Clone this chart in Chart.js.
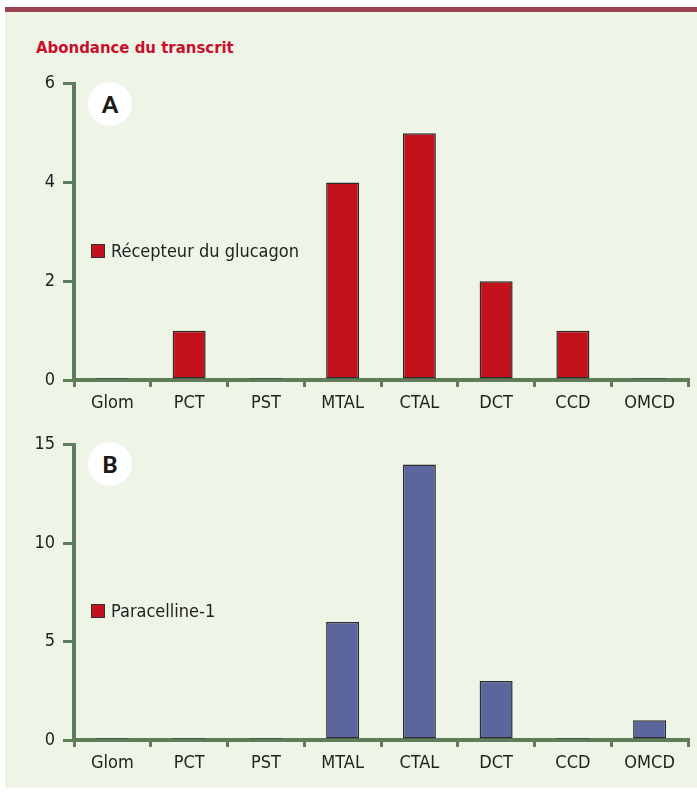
<!DOCTYPE html>
<html>
<head>
<meta charset="utf-8">
<script src="https://cdn.jsdelivr.net/npm/chart.js@4.4.1/dist/chart.umd.min.js"></script>
<style>
  html, body { margin: 0; padding: 0; background: #ffffff; }
  body { width: 697px; height: 793px; position: relative; overflow: hidden; font-family: "DejaVu Sans Condensed", "DejaVu Sans", sans-serif; }
  #bg { position: absolute; left: 5px; top: 12px; width: 692px; height: 776px; background: #eef5e7; }
  #topbar { position: absolute; left: 5px; top: 7px; width: 692px; height: 5px; background: #9a4350; }
  #title { position: absolute; left: 36px; top: 38px; font-family: "DejaVu Sans Condensed", sans-serif; font-weight: bold; font-size: 16.6px; color: #c8102e; white-space: nowrap; }
  canvas { position: absolute; left: 0; }
  #cA { top: 65px; }
  #cB { top: 426px; }
  .circle { position: absolute; width: 44px; height: 44px; border-radius: 50%; background: #ffffff; z-index: 5;
            display: flex; align-items: center; justify-content: center; font-family: Lato, "DejaVu Sans", sans-serif; font-weight: 900; font-size: 23px; color: #1a1a1a; }
  .legend { position: absolute; z-index: 5; display: flex; align-items: center; white-space: nowrap; font-size: 18px; color: #222; }
  .legend .sw { width: 12px; height: 12px; background: #c4121c; border: 1px solid #333; margin-right: 6px; }
</style>
</head>
<body>
<div id="bg"></div>
<div id="topbar"></div>
<div id="title">Abondance du transcrit</div>
<canvas id="cA" width="697" height="345"></canvas>
<canvas id="cB" width="697" height="344"></canvas>
<div class="circle" style="left:88px; top:82px;">A</div>
<div class="circle" style="left:88px; top:442px;">B</div>
<div class="legend" style="left:91px; top:240px;"><span class="sw"></span><span>Récepteur du glucagon</span></div>
<div class="legend" style="left:91px; top:600px;"><span class="sw"></span><span>Paracelline-1</span></div>
<script>
const categories = ['Glom', 'PCT', 'PST', 'MTAL', 'CTAL', 'DCT', 'CCD', 'OMCD'];
const glucagonValues = [0, 1, 0, 4, 5, 2, 1, 0];
const paracellineValues = [0, 0, 0, 6, 14, 3, 0, 1];
const ticksA = [0, 2, 4, 6];
const ticksB = [0, 5, 10, 15];
const seriesLabels = ['Récepteur du glucagon', 'Paracelline-1'];

const GREEN = '#5f7d5a';
const TEXT = '#222222';
const FONT = { family: '"DejaVu Sans Condensed", "DejaVu Sans", sans-serif', size: 18 };

function makeChart(id, label, values, color, ticks) {
  return new Chart(document.getElementById(id), {
    type: 'bar',
    data: {
      labels: categories,
      datasets: [{
        label: label,
        data: values,
        backgroundColor: ctx => ctx.raw === 0 ? '#2f352f' : color,
        borderColor: '#2b2b2b',
        borderWidth: ctx => ctx.raw === 0 ? 0 : 1.5,
        borderSkipped: false,
        minBarLength: 2,
        barPercentage: 0.43,
        categoryPercentage: 1.0
      }]
    },
    options: {
      responsive: false,
      animation: false,
      devicePixelRatio: 1,
      layout: { padding: { top: 6, right: 9, bottom: 0, left: 0 } },
      plugins: { legend: { display: false }, tooltip: { enabled: false } },
      scales: {
        x: {
          type: 'category',
          offset: true,
          grid: { offset: true, drawOnChartArea: false, color: GREEN, lineWidth: 3, tickLength: 7 },
          border: { color: GREEN, width: 4 },
          ticks: { color: TEXT, font: FONT, padding: 6, maxRotation: 0, autoSkip: false },
          afterFit: s => { s.height = 30; }
        },
        y: {
          min: ticks[0],
          max: ticks[ticks.length - 1],
          afterBuildTicks: s => { s.ticks = ticks.map(v => ({ value: v })); },
          grid: { drawOnChartArea: false, color: GREEN, lineWidth: 3, tickLength: 11 },
          border: { color: GREEN, width: 4 },
          ticks: { color: TEXT, font: FONT, padding: 8 },
          afterFit: s => { s.width = 74; }
        }
      }
    }
  });
}

makeChart('cA', seriesLabels[0], glucagonValues, '#c4121c', ticksA);
makeChart('cB', seriesLabels[1], paracellineValues, '#5b659e', ticksB);
</script>
</body>
</html>
